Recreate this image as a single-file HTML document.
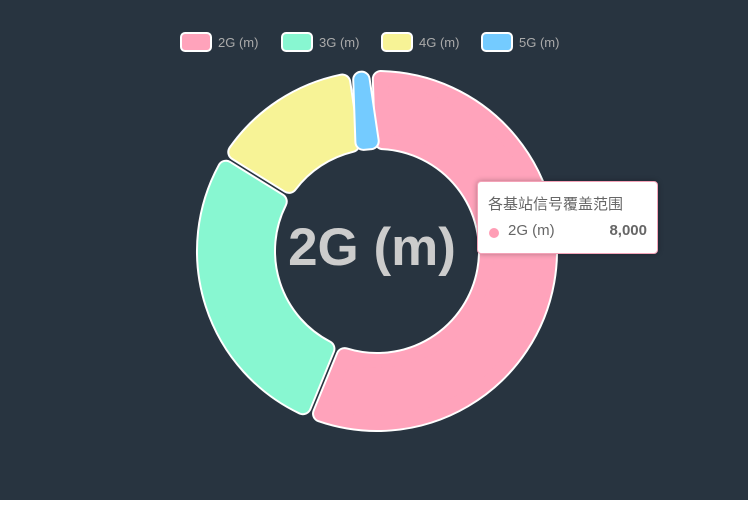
<!DOCTYPE html>
<html><head><meta charset="utf-8"><style>
html,body{margin:0;padding:0;background:#fff;}
#wrap{position:relative;width:748px;height:500px;background:#283440;overflow:hidden;font-family:"Liberation Sans","Noto Sans CJK SC",sans-serif;}
.tip{position:absolute;left:477px;top:181px;width:181px;height:73px;background:#fff;border:1px solid #f4a3b8;border-radius:4px;box-shadow:0 0 6px rgba(0,0,0,.3);box-sizing:border-box;}
</style></head><body>
<div id="wrap">
<svg id="svg" width="748" height="500"></svg>
<div class="tip">
 <div style="position:absolute;left:10px;top:11px;font-size:15px;color:#666">各基站信号覆盖范围</div>
 <div style="position:absolute;left:11px;top:46px;width:10px;height:10px;border-radius:5px;background:#ff9db5"></div>
 <div style="position:absolute;left:30px;top:40px;font-size:15px;color:#666">2G (m)</div>
 <div style="position:absolute;right:10px;top:40px;font-size:15px;color:#666;font-weight:bold">8,000</div>
</div>
</div>
<script>
const categories=["2G (m)","3G (m)","4G (m)","5G (m)"];
const values=[8000,3900,1950,250];
const colors=["#ffa3bb","#88f7d1","#f7f396","#74cbff"];
const NS="http://www.w3.org/2000/svg";
const svg=document.getElementById('svg');
const cx=377,cy=251,R0=101,R1=181,cr=8,pad=0.8,rot=-2*Math.PI/180;
const total=values.reduce((a,b)=>a+b,0);
function pt(r,a){return [cx+r*Math.sin(a),cy-r*Math.cos(a)];}
function slicePath(a0,a1,ri,ro,inset){
  ri+=inset;ro-=inset;
  const ao0=a0+Math.asin(Math.min(1,(inset+pad)/ro)),ao1=a1-Math.asin(Math.min(1,(inset+pad)/ro));
  const ai0=a0+Math.asin(Math.min(1,(inset+pad)/ri)),ai1=a1-Math.asin(Math.min(1,(inset+pad)/ri));
  const p1=pt(ro,ao0),p2=pt(ro,ao1),p3=pt(ri,ai1),p4=pt(ri,ai0);
  const lo=(ao1-ao0)>Math.PI?1:0,li=(ai1-ai0)>Math.PI?1:0;
  return `M${p1[0]},${p1[1]}A${ro},${ro} 0 ${lo} 1 ${p2[0]},${p2[1]}L${p3[0]},${p3[1]}A${ri},${ri} 0 ${li} 0 ${p4[0]},${p4[1]}Z`;
}
let acc=0;
values.forEach((v,i)=>{
  const a0=rot+acc/total*2*Math.PI;acc+=v;const a1=rot+acc/total*2*Math.PI;
  const g=document.createElementNS(NS,'g');
  
  
  const w=document.createElementNS(NS,'path');
  w.setAttribute('d',slicePath(a0,a1,R0,R1,cr+1));
  w.setAttribute('fill','#fff');w.setAttribute('stroke','#fff');
  w.setAttribute('stroke-width',2*(cr+1));w.setAttribute('stroke-linejoin','round');
  const f=document.createElementNS(NS,'path');
  f.setAttribute('d',slicePath(a0,a1,R0,R1,cr+1));
  f.setAttribute('fill',colors[i]);f.setAttribute('stroke',colors[i]);
  f.setAttribute('stroke-width',2*(cr-1));f.setAttribute('stroke-linejoin','round');
  g.appendChild(w);g.appendChild(f);svg.appendChild(g);
});
const t=document.createElementNS(NS,'text');
t.setAttribute('x',372);t.setAttribute('y',265);t.setAttribute('text-anchor','middle');
t.setAttribute('font-size','53');t.setAttribute('font-weight','bold');t.setAttribute('fill','#cccccc');
t.setAttribute('font-family','Liberation Sans, sans-serif');


t.textContent=categories[0];svg.appendChild(t);
const lx=[181,282,382,482];
categories.forEach((c,i)=>{
  const g=document.createElementNS(NS,'g');
  
  
  const r=document.createElementNS(NS,'rect');
  r.setAttribute('x',lx[i]);r.setAttribute('y',33);r.setAttribute('width',30);r.setAttribute('height',18);
  r.setAttribute('rx',4);r.setAttribute('fill',colors[i]);r.setAttribute('stroke','#fff');r.setAttribute('stroke-width',2);
  const tx=document.createElementNS(NS,'text');
  tx.setAttribute('x',lx[i]+37);tx.setAttribute('y',47);tx.setAttribute('font-size','13');tx.setAttribute('fill','#aaaaaa');
  tx.setAttribute('font-family','Liberation Sans, sans-serif');
  tx.textContent=c;
  g.appendChild(r);g.appendChild(tx);svg.appendChild(g);
});
</script>
</body></html>
